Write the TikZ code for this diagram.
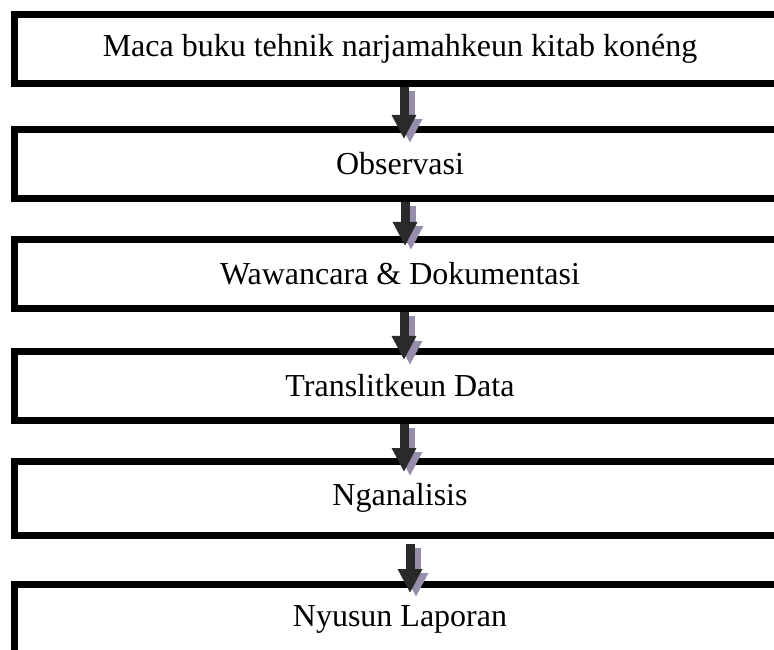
\documentclass[tikz,border=0pt]{standalone}
\usepackage{fontspec}
\setmainfont{Liberation Serif}
\usetikzlibrary{positioning,arrows.meta}

\definecolor{arrowdark}{RGB}{42,42,42}
\definecolor{arrowshadow}{RGB}{150,142,170}

\begin{document}
\begin{tikzpicture}[
    x=1pt, y=1pt,
    node distance=36pt,
    box/.style={
        rectangle,
        draw=black,
        line width=7pt,
        minimum width=771pt,
        minimum height=69pt,
        inner sep=0pt,
        font=\fontsize{32}{38}\selectfont
    },
    arrow/.style={-{Triangle[length=24pt,width=23pt]}, line width=9pt, arrowdark},
    arrowshade/.style={-{Triangle[length=24pt,width=23pt]}, line width=9pt, arrowshadow}
]
\useasboundingbox (0,0) rectangle (774,649);
\clip (0,0) rectangle (774,649);

\node[box] (b1) at (400,600) {Maca buku tehnik narjamahkeun kitab konéng};
\node[box, below=39pt of b1] (b2) {Observasi};
\node[box, below=34pt of b2] (b3) {Wawancara \& Dokumentasi};
\node[box, below=36pt of b3] (b4) {Translitkeun Data};
\node[box, below=34pt of b4, minimum height=73.5pt] (b5) {Nganalisis};
\node[box, below=42.5pt of b5] (b6) {Nyusun Laporan};

% shadows first, then the arrows
\draw[arrowshade] ([xshift=10pt,yshift=-4pt]b1.south) -- ([xshift=10pt,yshift=-17pt]b2.north);
\draw[arrow] ([xshift=4pt]b1.south) -- ([xshift=4pt,yshift=-13pt]b2.north);
\draw[arrowshade] ([xshift=11pt,yshift=-4pt]b2.south) -- ([xshift=11pt,yshift=-14pt]b3.north);
\draw[arrow] ([xshift=5pt]b2.south) -- ([xshift=5pt,yshift=-10pt]b3.north);
\draw[arrowshade] ([xshift=10pt,yshift=-4pt]b3.south) -- ([xshift=10pt,yshift=-17pt]b4.north);
\draw[arrow] ([xshift=4pt]b3.south) -- ([xshift=4pt,yshift=-12pt]b4.north);
\draw[arrowshade] ([xshift=10pt,yshift=-4pt]b4.south) -- ([xshift=10pt,yshift=-18pt]b5.north);
\draw[arrow] ([xshift=4pt]b4.south) -- ([xshift=4pt,yshift=-14pt]b5.north);
\draw[arrowshade] ([xshift=16pt,yshift=-9pt]b5.south) -- ([xshift=16pt,yshift=-16pt]b6.north);
\draw[arrow] ([xshift=10pt,yshift=-5pt]b5.south) -- ([xshift=10pt,yshift=-12pt]b6.north);
\end{tikzpicture}
\end{document}
